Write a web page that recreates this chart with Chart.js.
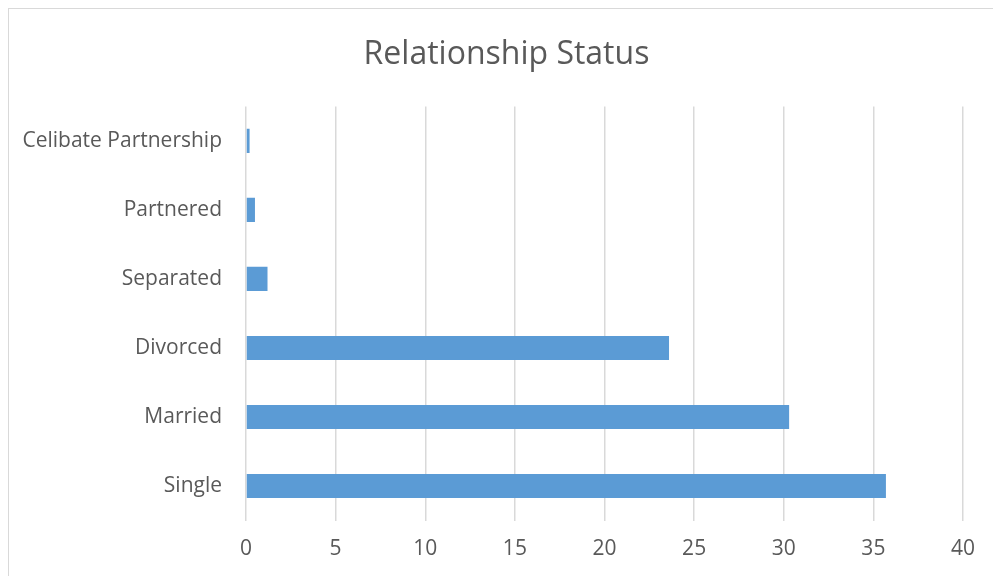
<!DOCTYPE html>
<html>
<head>
<meta charset="utf-8">
<script src="https://cdn.jsdelivr.net/npm/chart.js@4"></script>
<style>
  html, body { margin: 0; padding: 0; background: #fff; }
  #wrap { width: 993px; height: 576px; position: relative; }
</style>
</head>
<body>
<div id="wrap"><canvas id="canvas" width="993" height="576"></canvas></div>
<script>
const categories = ['Celibate Partnership', 'Partnered', 'Separated', 'Divorced', 'Married', 'Single'];
const values = [0.2, 0.5, 1.2, 23.6, 30.3, 35.7];
const xMin = 0;
const xMax = 40;
const xStep = 5;

// outer chart frame like the spreadsheet export
const framePlugin = {
  id: 'frame',
  beforeDraw(chart) {
    const ctx = chart.ctx;
    ctx.save();
    ctx.fillStyle = '#ffffff';
    ctx.fillRect(0, 0, chart.width, chart.height);
    ctx.strokeStyle = '#d9d9d9';
    ctx.lineWidth = 1;
    ctx.strokeRect(8.5, 8.5, 1100, 700);
    ctx.restore();
  }
};

const ctx = document.getElementById('canvas').getContext('2d');
const chart = new Chart(ctx, {
  type: 'bar',
  data: {
    labels: categories,
    datasets: [{
      label: 'Relationship Status',
      data: values,
      backgroundColor: '#5b9bd5',
      borderWidth: 0,
      barPercentage: 0.35,
      categoryPercentage: 1
    }]
  },
  options: {
    indexAxis: 'y',
    responsive: false,
    animation: false,
    layout: { padding: { top: 0, left: 20, right: 0, bottom: 0 } },
    plugins: {
      legend: { display: false },
      tooltip: { enabled: false },
      title: {
        display: true,
        text: 'Relationship Status',
        color: '#595959',
        font: { family: 'Open Sans', size: 32, weight: '400', lineHeight: 1.2 },
        padding: { top: 36, bottom: 32 }
      }
    },
    scales: {
      x: {
        min: xMin,
        max: xMax,
        ticks: {
          stepSize: xStep,
          color: '#595959',
          padding: 16,
          font: { family: 'Open Sans', size: 21 }
        },
        grid: { color: '#d9d9d9', lineWidth: 1.5, drawTicks: false },
        border: { display: false },
        afterFit(scale) { scale.height = 55.5; }
      },
      y: {
        ticks: {
          color: '#595959',
          padding: 24,
          font: { family: 'Open Sans', size: 21 }
        },
        grid: { display: false, drawTicks: false },
        border: { display: false },
        afterFit(scale) { scale.width = 226; }
      },
      // empty right-hand margin so the plot ends where the original does
      yRight: {
        type: 'category',
        position: 'right',
        ticks: { display: false },
        grid: { display: false, drawTicks: false },
        border: { display: false },
        afterFit(scale) { scale.width = 30; }
      }
    }
  },
  plugins: [framePlugin]
});
</script>
</body>
</html>
